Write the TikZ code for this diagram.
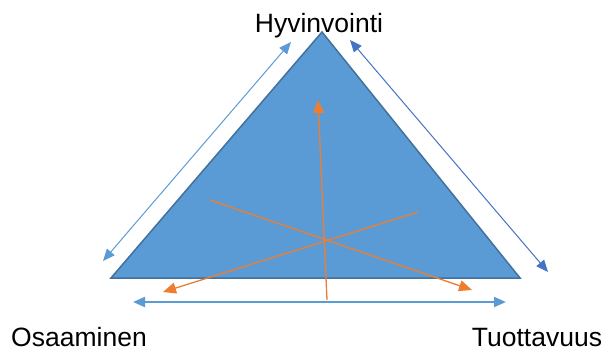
\documentclass[tikz,border=0pt]{standalone}
\usepackage{fontspec}
\setmainfont{Liberation Sans}
\usetikzlibrary{arrows.meta}

\definecolor{triblue}{HTML}{5B9BD5}
\definecolor{triedge}{HTML}{41719C}
\definecolor{darkblue}{HTML}{4472C4}
\definecolor{orangeline}{HTML}{ED7D31}

\begin{document}
\begin{tikzpicture}[x=1pt,y=-1pt,
  label/.style={inner sep=0pt,anchor=base,font=\fontsize{26.5}{30}\selectfont},
  side/.style={line width=1pt,{Triangle[length=12pt,width=10pt]}-{Triangle[length=12pt,width=10pt]}},
  ray/.style={orangeline,line width=1.3pt,-{Triangle[length=13pt,width=11pt]}}]
 			\useasboundingbox (0,0) rectangle (606,351);
 			% corners of the triangle
 			\coordinate (apex) at (322,32);
 			\coordinate (left) at (111,278);
 			\coordinate (right) at (520,278);
 			\draw[fill=triblue,draw=triedge,line width=1.5pt,line join=miter] (apex) -- (left) -- (right) -- cycle;
 			%% Labels
 			\path (319,32) node(hyv)[label] {Hyvinvointi};
 			\path (79,346) node(osa)[label] {Osaaminen};
 			\path (537,346) node(tuo)[label] {Tuottavuus};
 			%% Arrows beside the sides
 			\coordinate (lsideA) at (103,261);
 			\coordinate (lsideB) at (291,42);
 			\coordinate (rsideA) at (350,40);
 			\coordinate (rsideB) at (548,272);
 			\coordinate (bsideA) at (133,302);
 			\coordinate (bsideB) at (506,302);
 			\draw[side,triblue] (lsideA) -- (lsideB);
 			\draw[side,darkblue] (rsideA) -- (rsideB);
 			\draw[side,triblue,line width=2pt] (bsideA) -- (bsideB);
 			%% Orange rays
 			\coordinate (upS) at (327,300);
 			\coordinate (upE) at (318,100);
 			\coordinate (dnrS) at (210,200);
 			\coordinate (dnrE) at (472,290);
 			\coordinate (dnlS) at (418,212);
 			\coordinate (dnlE) at (163,292);
 			\draw[ray] (upS) -- (upE);
 			\draw[ray] (dnrS) -- (dnrE);
 			\draw[ray] (dnlS) -- (dnlE);
\end{tikzpicture}
\end{document}
